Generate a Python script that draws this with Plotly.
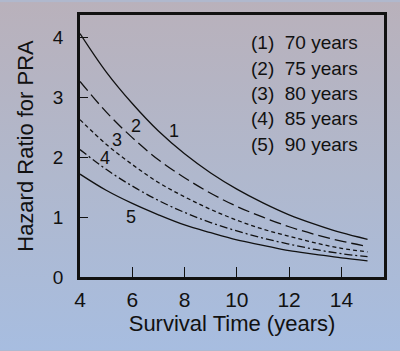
import plotly.graph_objects as go
import base64

# Survival time (years)
t = [4, 5, 6, 7, 8, 9, 10, 11, 12, 13, 14, 15]

hr_70 = [4.07, 3.43, 2.90, 2.44, 2.06, 1.74, 1.47, 1.24, 1.04, 0.88, 0.74, 0.63]
hr_75 = [3.27, 2.76, 2.33, 1.96, 1.66, 1.40, 1.18, 1.00, 0.84, 0.71, 0.60, 0.51]
hr_80 = [2.63, 2.22, 1.88, 1.58, 1.34, 1.13, 0.95, 0.80, 0.68, 0.57, 0.48, 0.42]
hr_85 = [2.13, 1.80, 1.52, 1.28, 1.08, 0.91, 0.77, 0.65, 0.55, 0.46, 0.39, 0.34]
hr_90 = [1.72, 1.45, 1.23, 1.04, 0.87, 0.74, 0.62, 0.53, 0.44, 0.38, 0.32, 0.27]

series_names = ["(1)  70 years", "(2)  75 years", "(3)  80 years", "(4)  85 years", "(5)  90 years"]
series_values = [hr_70, hr_75, hr_80, hr_85, hr_90]
curve_labels = ["1", "2", "3", "4", "5"]
label_pos = [(7.6, 2.44), (6.14, 2.53), (5.4, 2.29), (4.96, 1.99), (5.97, 1.01)]

x_ticks = [4, 6, 8, 10, 12, 14]
y_ticks = [0, 1, 2, 3, 4]

dashes = ["solid", "12px,5px", "4px,3px", "8px,3px,2px,3px", "solid"]

fig = go.Figure()
for name, vals, d in zip(series_names, series_values, dashes):
    fig.add_trace(go.Scatter(
        x=t, y=vals, mode="lines", name=name,
        line=dict(color="#111111", width=1.3, dash=d, shape="spline"),
        showlegend=False,
    ))

font = "Liberation Sans, Arial, sans-serif"

for lab, (lx, ly) in zip(curve_labels, label_pos):
    fig.add_annotation(x=lx, y=ly, text=lab, showarrow=False,
                       font=dict(family=font, size=18, color="#111111"))

for i, name in enumerate(series_names):
    fig.add_annotation(xref="paper", yref="paper",
                       x=(249 - 80) / 304, y=(277 - (41 + 25.5 * i)) / 264,
                       text=name, showarrow=False, xanchor="left", yanchor="middle",
                       font=dict(family=font, size=19, color="#111111"))

svg = ('<svg xmlns="http://www.w3.org/2000/svg" width="400" height="351">'
       '<defs><linearGradient id="g" x1="0" y1="0" x2="0" y2="1">'
       '<stop offset="0" stop-color="#b9b1bb"/>'
       '<stop offset="0.5" stop-color="#b0b8cd"/>'
       '<stop offset="1" stop-color="#a7bde0"/>'
       '</linearGradient></defs>'
       '<rect width="400" height="351" fill="url(#g)"/></svg>')
src = "data:image/svg+xml;base64," + base64.b64encode(svg.encode()).decode()

fig.add_layout_image(dict(source=src, xref="paper", yref="paper",
                          x=-80 / 304, y=1 + 13 / 264,
                          sizex=400 / 304, sizey=351 / 264,
                          xanchor="left", yanchor="top",
                          sizing="stretch", layer="below"))

fig.update_layout(
    width=400, height=351,
    margin=dict(l=80, r=16, t=13, b=74),
    paper_bgcolor="#b0b8cd",
    plot_bgcolor="rgba(0,0,0,0)",
    font=dict(family=font, color="#111111"),
)
fig.update_xaxes(
    range=[4, 15.63], tickvals=x_ticks, ticks="inside", ticklen=10, tickwidth=1,
    tickcolor="#111111", showline=True, linewidth=2.5, linecolor="#111111", mirror=True,
    showgrid=False, zeroline=False, tickfont=dict(size=21), ticklabelstandoff=2,
    title=dict(text="Survival Time (years)", font=dict(size=22), standoff=6),
)
fig.update_yaxes(
    range=[0, 4.38], tickvals=y_ticks, ticks="inside", ticklen=8, tickwidth=1,
    tickcolor="#111111", showline=True, linewidth=2.5, linecolor="#111111", mirror=True,
    showgrid=False, zeroline=False, tickfont=dict(size=19), ticklabelstandoff=10,
    title=dict(text="Hazard Ratio for PRA", font=dict(size=22), standoff=14),
)

fig.write_html("out.html")
